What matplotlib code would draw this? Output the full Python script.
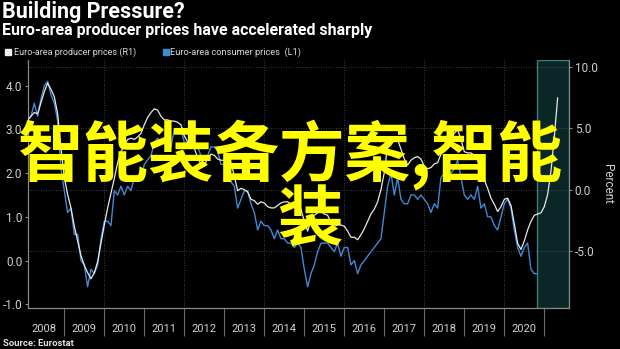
import numpy as np
import matplotlib
matplotlib.use("Agg")
import matplotlib.pyplot as plt
from matplotlib.patches import Rectangle

# monthly yoy %, Jan 2008 .. Apr 2021
cpi = [
    3.2, 3.3, 3.6, 3.3, 3.7, 4.0, 4.1, 3.8, 3.6, 3.2, 2.1, 1.6,      # 2008
    1.1, 1.2, 0.6, 0.6, 0.0, -0.1, -0.6, -0.2, -0.3, -0.1, 0.5, 0.9,  # 2009
    0.9, 0.8, 1.6, 1.5, 1.7, 1.5, 1.7, 1.6, 1.9, 1.9, 1.9, 2.2,      # 2010
    2.3, 2.4, 2.7, 2.8, 2.7, 2.7, 2.6, 2.6, 3.0, 3.0, 3.0, 2.7,      # 2011
    2.7, 2.7, 2.7, 2.6, 2.4, 2.4, 2.4, 2.6, 2.6, 2.5, 2.2, 2.2,      # 2012
    2.0, 1.8, 1.7, 1.2, 1.4, 1.6, 1.6, 1.3, 1.1, 0.7, 0.9, 0.8,      # 2013
    0.8, 0.7, 0.5, 0.7, 0.5, 0.5, 0.4, 0.4, 0.3, 0.4, 0.3, -0.2,     # 2014
    -0.6, -0.3, -0.1, 0.2, 0.4, 0.4, 0.4, 0.3, 0.2, 0.4, 0.1, 0.3,   # 2015
    0.3, -0.1, 0.0, -0.3, -0.1, 0.0, 0.1, 0.2, 0.3, 0.4, 0.5, 1.1,   # 2016
    1.7, 2.0, 1.5, 1.9, 1.4, 1.3, 1.3, 1.5, 1.5, 1.4, 1.5, 1.4,      # 2017
    1.3, 1.1, 1.3, 1.2, 1.9, 2.0, 2.1, 2.0, 2.1, 2.3, 1.9, 1.5,      # 2018
    1.4, 1.5, 1.4, 1.7, 1.2, 1.3, 1.0, 1.0, 0.8, 0.7, 1.0, 1.3,      # 2019
    1.4, 1.2, 0.7, 0.3, 0.1, 0.3, 0.4, -0.2, -0.3, -0.3, -0.3, -0.3, # 2020
    0.9, 0.9, 1.3, 1.6,                                              # 2021
]
ppi = [
    5.7, 6.0, 6.3, 6.2, 7.1, 8.0, 8.7, 8.2, 7.6, 6.2, 3.4, 1.0,          # 2008
    -0.4, -1.5, -3.0, -4.2, -5.4, -6.2, -6.8, -7.3, -6.8, -5.9, -4.4, -2.9,  # 2009
    -1.5, -0.3, 0.9, 2.2, 3.1, 3.6, 4.1, 4.2, 4.1, 4.3, 4.6, 5.3,        # 2010
    5.9, 6.3, 6.6, 6.5, 6.0, 5.7, 5.7, 5.6, 5.6, 5.5, 5.3, 4.4,          # 2011
    3.9, 3.6, 3.4, 2.6, 2.1, 1.9, 2.6, 2.9, 2.8, 2.5, 2.4, 2.4,          # 2012
    2.4, 2.2, 1.1, -0.1, 0.1, 0.0, -0.2, -0.8, -0.9, -1.2, -1.0, -1.1,   # 2013
    -1.4, -1.5, -1.5, -1.3, -1.1, -1.0, -1.0, -1.2, -1.4, -1.3, -1.6, -2.6,  # 2014
    -3.4, -2.5, -2.1, -1.9, -1.8, -2.0, -2.1, -2.7, -3.0, -2.9, -2.9, -3.0,  # 2015
    -3.4, -3.9, -3.9, -4.1, -3.7, -3.2, -2.6, -2.0, -1.6, -1.0, 0.0, 1.4,    # 2016
    3.6, 4.0, 4.0, 4.1, 3.3, 2.5, 2.0, 2.4, 2.6, 2.7, 2.5, 1.9,          # 2017
    1.7, 1.8, 2.1, 2.2, 2.9, 3.5, 3.9, 4.3, 4.6, 4.9, 4.1, 3.1,          # 2018
    3.0, 3.0, 2.8, 2.4, 1.4, 0.8, 0.1, -0.7, -1.2, -1.8, -1.4, -0.8,     # 2019
    -0.7, -1.3, -2.8, -4.4, -4.9, -4.2, -3.3, -2.6, -2.1, -2.0, -1.9, -1.4,  # 2020
    -0.4, 1.5, 4.3, 7.5,                                                 # 2021
]
years = list(range(2008, 2021))
shade_start = 2020.81
shade_end = 2021.625

# month-end positions in decimal years
t = 2008 + (np.arange(len(cpi)) + 1) / 12.0

W, H = 620, 349
fig = plt.figure(figsize=(W / 100, H / 100), dpi=100, facecolor="black")

def px(x, y):
    return x / W, 1 - y / H

l, r, top, bot = 27.7, 569.3, 60, 308
ax = fig.add_axes([l / W, 1 - bot / H, (r - l) / W, (bot - top) / H])
ax.set_facecolor("black")
ax2 = ax.twinx()

grey = "#8a8a8a"
font = "Roboto"

# shaded recent period
ax2.axvspan(shade_start, shade_end, facecolor="#0b2626", edgecolor="#3c7d7d", lw=1.0, zorder=0)

ax.plot(t, cpi, color="#4189d4", lw=1.0, zorder=3)
ax2.plot(t, ppi, color="#e8e8e8", lw=0.9, zorder=3)

ax.set_xlim(2008.085, 2021.625)
ax.set_ylim(-1.085, 4.588)
ax2.set_ylim(-9.686, 10.597)

ax.set_yticks([-1, 0, 1, 2, 3, 4])
ax.set_yticklabels(["-1.0", "0.0", "1.0", "2.0", "3.0", "4.0"])
ax2.set_yticks([-5, 0, 5, 10])
ax2.set_yticklabels(["-5.0", "0.0", "5.0", "10.0"])

ax.set_xticks(range(2009, 2022))
ax.set_xticklabels([])
ax.set_xticks([y + 0.5 for y in years], minor=True)
ax.set_xticklabels([str(y) for y in years], minor=True)
ax.tick_params(axis="x", which="major", length=20, width=0.8, color="#6a6a6a")
ax.tick_params(axis="x", which="minor", length=0, pad=11.5, labelsize=8,
               labelcolor="#d0d0d0")
ax.tick_params(axis="y", length=2.5, width=0.8, color=grey, pad=1.5,
               labelsize=8.5, labelcolor="#d0d0d0")
ax2.tick_params(axis="y", length=2.5, width=0.8, color=grey, pad=1.5,
                labelsize=8.5, labelcolor="#d0d0d0")
for lab in ax.get_xticklabels(minor=True) + ax.get_yticklabels() + ax2.get_yticklabels():
    lab.set_fontfamily(font)

ax2.set_ylabel("Percent", rotation=270, color="#d0d0d0", fontsize=8.5,
               fontfamily=font, labelpad=12)

# dotted grid: horizontal on right scale, vertical every other year
for v in [-5, 0, 5, 10]:
    ax2.axhline(v, color="#555555", lw=0.6, ls=(0, (1, 2)), zorder=1)
for yv in range(2010, 2021, 2):
    ax.axvline(yv, color="#555555", lw=0.6, ls=(0, (1, 2)), zorder=1)

for a in (ax, ax2):
    a.spines["top"].set_visible(False)
    for s in ("left", "right", "bottom"):
        a.spines[s].set_color(grey)
        a.spines[s].set_linewidth(0.8)

# header
fig.text(*px(2, 12), "Building Pressure?", color="white", fontsize=15.5,
         fontweight="bold", fontfamily=font, va="center", ha="left")
fig.text(*px(2, 31), "Euro-area producer prices have accelerated sharply",
         color="white", fontsize=11.5, fontweight="bold", fontfamily=font,
         va="center", ha="left")

# legend
fig.patches.append(Rectangle(px(5, 55), 6 / W, 6 / H, color="#f0f0f0",
                             transform=fig.transFigure, figure=fig))
fig.text(*px(14, 52), "Euro-area producer prices (R1)", color="#d8d8d8",
         fontsize=6.5, fontfamily=font, va="center")
fig.patches.append(Rectangle(px(163, 55), 6 / W, 6 / H, color="#4189d4",
                             transform=fig.transFigure, figure=fig))
fig.text(*px(170, 52), "Euro-area consumer prices  (L1)", color="#d8d8d8",
         fontsize=6.7, fontfamily=font, va="center")

fig.text(*px(3, 343), "Source: Eurostat", color="#e0e0e0", fontsize=6.8,
         fontweight="bold", fontfamily=font, va="center")

# overlay caption
cjk = ["Noto Sans CJK SC", "DejaVu Sans"]
fig.text(*px(17, 176), "智能装备方案,智能", color="#ffff00", fontsize=47.2,
         fontweight="bold", family=cjk, va="baseline", ha="left")
fig.text(*px(277, 241), "装", color="#ffff00", fontsize=47.2,
         fontweight="bold", family=cjk, va="baseline", ha="left")

fig.savefig("out.png", dpi=100, facecolor="black")
